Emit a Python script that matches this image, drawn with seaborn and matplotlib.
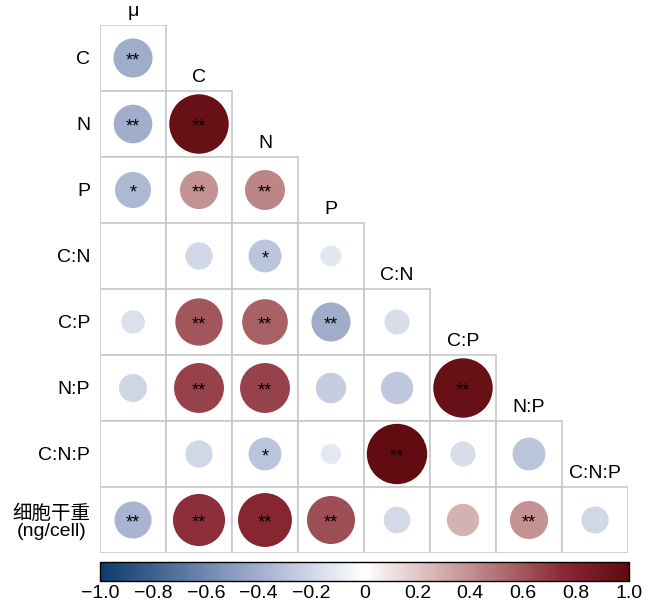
import numpy as np
import pandas as pd
import matplotlib
matplotlib.use("Agg")
import matplotlib.pyplot as plt
from matplotlib.colors import LinearSegmentedColormap, Normalize
from matplotlib.cm import ScalarMappable
from matplotlib.patches import Rectangle
import seaborn as sns

# Variables
cols = ["μ", "C", "N", "P", "C:N", "C:P", "N:P", "C:N:P"]
rows = ["C", "N", "P", "C:N", "C:P", "N:P", "C:N:P", "细胞干重\n(ng/cell)"]

# Correlation coefficients, lower triangle, one list per row
corr_C = [-0.41]
corr_N = [-0.40, 0.95]
corr_P = [-0.35, 0.39, 0.43]
corr_CN = [0.0, -0.20, -0.29, -0.12]
corr_CP = [-0.15, 0.60, 0.56, -0.41, -0.17]
corr_NP = [-0.21, 0.67, 0.67, -0.25, -0.28, 0.95]
corr_CNP = [0.0, -0.20, -0.29, -0.11, 0.98, -0.17, -0.29]
corr_DW = [-0.37, 0.73, 0.78, 0.62, -0.19, 0.28, 0.39, -0.20]

# Significance marks
sig_C = ["**"]
sig_N = ["**", "**"]
sig_P = ["*", "**", "**"]
sig_CN = ["", "", "*", ""]
sig_CP = ["", "**", "**", "**", ""]
sig_NP = ["", "**", "**", "", "", "**"]
sig_CNP = ["", "", "*", "", "**", "", ""]
sig_DW = ["**", "**", "**", "**", "", "", "**", ""]

cbar_ticks = [-1.0, -0.8, -0.6, -0.4, -0.2, 0.0, 0.2, 0.4, 0.6, 0.8, 1.0]
cbar_labels = ["\u22121.0", "\u22120.8", "\u22120.6", "\u22120.4", "\u22120.2",
               "0", "0.2", "0.4", "0.6", "0.8", "1.0"]

corr_rows = [corr_C, corr_N, corr_P, corr_CN, corr_CP, corr_NP, corr_CNP, corr_DW]
sig_rows = [sig_C, sig_N, sig_P, sig_CN, sig_CP, sig_NP, sig_CNP, sig_DW]

records = []
for i, (vals, sigs) in enumerate(zip(corr_rows, sig_rows)):
    for j, (v, s) in enumerate(zip(vals, sigs)):
        records.append({"row": i, "col": j, "x": j + 0.5, "y": i + 0.5,
                        "r": v, "absr": abs(v), "sig": s})
df = pd.DataFrame(records)

sns.set_theme(style="white")
plt.rcParams["font.family"] = ["Liberation Sans", "Noto Sans CJK SC", "DejaVu Sans"]

cmap = LinearSegmentedColormap.from_list(
    "corr",
    [(0.0, "#0c3b6c"), (0.25, "#8a9bc0"), (0.5, "#ffffff"),
     (0.75, "#b27475"), (0.875, "#8a2a36"), (1.0, "#5f0a0f")])

n = len(cols)
fig = plt.figure(figsize=(6.55, 6.09), dpi=100)
ax = fig.add_axes([100 / 655, 56 / 609, 528 / 655, 528 / 609])

# Framed cells of the lower triangle
for i in range(n):
    for j in range(i + 1):
        ax.add_patch(Rectangle((j, i), 1, 1, facecolor="white",
                               edgecolor="#c8c8c8", linewidth=1.2, zorder=1))

# Circles: area proportional to |r|, colour by r
smax = (61 * 0.72) ** 2
sns.scatterplot(data=df, x="x", y="y", hue="r", size="absr",
                palette=cmap, hue_norm=(-1, 1), sizes=(0, smax),
                size_norm=(0, 1), linewidth=0, legend=False, ax=ax, zorder=3)

for _, rec in df.iterrows():
    if rec["sig"]:
        ax.text(rec["x"], rec["y"] + 0.05, rec["sig"], ha="center", va="center",
                fontsize=13, color="black", zorder=4)

# Column labels sit above the top cell of each column
for j, name in enumerate(cols):
    ax.text(j + 0.5, j - 0.2, name, ha="center", va="center", fontsize=14,
            color="black")

ax.set_xlim(0, n)
ax.set_ylim(n, 0)
ax.set_xticks([])
ax.set_yticks(np.arange(n) + 0.5)
ax.set_yticklabels(rows)
ax.set_xlabel("")
ax.set_ylabel("")
ax.tick_params(axis="y", length=0, pad=7, labelsize=14, labelcolor="black")
for lab in ax.get_yticklabels():
    lab.set_rotation(0)
    lab.set_multialignment("center")
    lab.set_linespacing(1.05)
for sp in ax.spines.values():
    sp.set_visible(False)

# Colour bar
cax = fig.add_axes([100 / 655, 28 / 609, 529 / 655, 19 / 609])
sm = ScalarMappable(norm=Normalize(-1, 1), cmap=cmap)
cb = fig.colorbar(sm, cax=cax, orientation="horizontal")
cb.set_ticks(cbar_ticks)
cb.set_ticklabels(cbar_labels)
cb.outline.set_linewidth(1.0)
cb.outline.set_edgecolor("black")
cax.tick_params(direction="in", length=4, width=0.8, color="black",
                labelsize=14, labelcolor="black", pad=3)

fig.savefig("out.png", dpi=100)
